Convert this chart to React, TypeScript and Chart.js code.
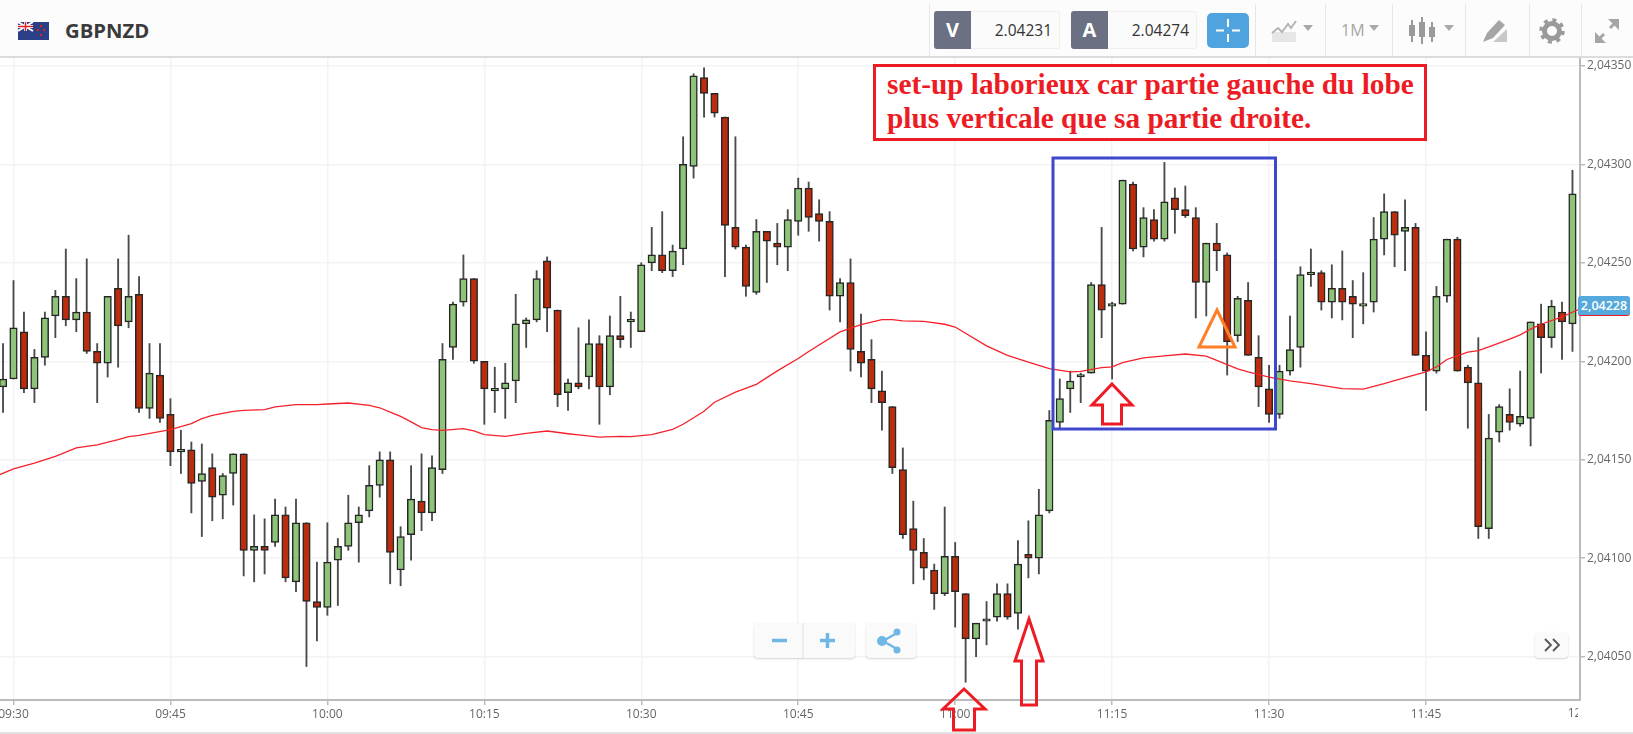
import React, { useEffect, useRef } from "react";
import { Chart, registerables } from "chart.js";

Chart.register(...registerables);

// Prices are written as tenths of a pip above 2.04000 (187 = 2.04187)
const FIRST_MINUTE = -1; // minutes after 09:30 of the first candle
const opens = [187,
  191,215,186,202,223,233,221,225,205,199,
  237,220,234,176,193,173,154,155,139,146,
  132,143,153,104,106,108,122,88,118,78,
  75,99,106,118,124,137,150,94,112,129,
  123,145,207,230,242,200,185,186,190,219,
  221,251,226,184,189,192,209,187,213,220,
  215,250,254,246,257,299,344,336,324,268,
  258,235,266,260,258,271,288,275,271,233,
  240,205,201,185,177,145,115,103,94,82,
  101,82,59,68,70,82,72,102,100,124,
  169,186,192,194,239,228,229,290,258,272,
  262,283,277,273,240,260,254,213,231,202,
  186,173,195,207,244,245,230,237,233,228,
  230,262,276,266,268,203,195,233,262,197,
  189,115,164,173,168,171,219,212,225,219];
const closes = [191,
  217,186,202,222,233,221,225,205,199,233,
  218,233,176,194,171,154,155,138,143,131,
  142,153,104,106,104,122,90,118,78,75,
  98,106,118,122,137,150,103,111,130,123,
  146,201,229,242,200,186,185,189,219,221,
  242,227,183,189,187,209,187,213,211,220,
  249,254,246,256,300,345,336,326,269,258,
  238,266,261,258,272,288,273,271,233,240,
  206,199,186,179,146,112,104,95,82,101,
  83,59,67,69,82,70,97,100,122,170,
  181,190,193,239,226,229,292,257,273,262,
  281,277,274,240,260,256,210,232,203,187,
  173,195,206,244,245,230,237,230,229,229,
  262,276,264,268,203,195,233,262,195,189,
  116,161,177,169,172,220,212,228,220,285];
const highs = [209,
  241,225,206,225,236,257,242,252,209,233,
  252,264,243,209,209,181,165,159,158,153,
  143,153,153,122,120,130,126,130,118,98,
  118,110,132,126,147,154,154,116,147,153,
  152,209,230,254,242,200,197,199,234,222,
  246,253,226,191,217,221,213,223,233,225,
  250,268,276,259,314,346,349,336,324,314,
  259,272,266,270,277,293,291,282,276,242,
  252,224,211,195,177,156,129,110,97,126,
  108,82,67,78,87,87,109,119,135,175,
  191,195,194,240,268,230,292,291,278,277,
  301,288,289,278,260,270,255,233,240,213,
  198,198,223,248,257,246,249,256,241,245,
  273,285,276,282,270,215,238,262,263,198,
  212,173,178,186,195,220,229,231,230,297];
const lows = [174,
  191,184,179,198,212,218,215,204,179,192,
  197,217,174,171,169,147,143,123,111,119,
  120,127,91,88,92,106,88,83,45,58,
  71,76,104,98,121,131,87,86,99,114,
  119,143,201,228,199,168,174,171,179,207,
  220,215,177,175,186,186,168,183,207,207,
  215,246,245,243,249,293,324,324,243,257,
  233,234,240,249,246,264,266,261,226,220,
  195,192,179,165,143,110,87,89,74,81,
  65,37,50,56,68,69,64,90,92,123,
  166,174,179,194,212,191,229,256,253,261,
  261,265,273,222,223,246,193,210,203,177,
  169,171,193,197,238,226,222,221,212,219,
  225,254,248,246,203,175,194,230,195,166,
  110,110,159,165,167,157,194,207,201,205];

const maMinutes = [-1.5,0,2,4,6,8,10,11,12,15,17,18,19,21,22,24,25,27,29,30,32,34,35,36,37,38,39,40,41,43,44,45,47,49,51,53,54,56,58,59,61,63,64,66,67,69,71,73,75,76,79,81,83,84,85,87,89,90,93,95,97,99,101,102,104,105,106,108,110,112,114,115,117,118,120,122,124,127,129,131,133,135,136,137,139,140,141,143,144,145,146,148,149.8];
const maValues = [142,145.4,148.3,151.7,156,157.6,160.2,161.7,162.4,165.3,168.3,170.9,172.5,174.6,175.1,175.4,176.8,178,178,178.3,178.8,177.6,176.4,174.2,172,169.2,166.3,165.3,164.9,165.8,164.6,162.7,161.9,163.4,164.6,163.2,162.6,161.5,161.9,161.7,162.7,165.4,168,174.6,179.2,184.3,188.3,195.1,201.4,205,214.9,218.6,221.2,221.2,220.5,220.3,218.8,217.4,207.8,203,199.6,196.3,194.6,194.9,196.8,197.2,199.3,201.7,202.7,203.7,202.6,200.5,196.1,194.6,192,190,188.6,186.1,185.9,188.6,191.7,194.6,197.1,200.9,204.6,205.4,207.3,211.2,213.4,216.3,218.8,222.5,226.8];

const xTickLabels = ["09:30","09:45","10:00","10:15","10:30","10:45","11:00","11:15","11:30","11:45","12:00"];
const yAxisMin = 2.04028;
const yAxisMax = 2.04354;
const xAxisMin = -1.29;
const xAxisMax = 149.72;
const bidPrice = "2.04231";
const askPrice = "2.04274";
const lastPrice = "2,04228";
const instrument = "GBPNZD";
const noteLines = ["set-up laborieux car partie gauche du lobe", "plus verticale que sa partie droite."];

const toPrice = (p: number) => 2.04 + p / 100000;
const UP = "#8dc47a";
const DOWN = "#bb2d0d";
const AXIS_FONT = { family: "'Open Sans', sans-serif", size: 12 };

function Sep({ x }: { x: number }) {
  return <div style={{ position: "absolute", left: x, top: 4, width: 1, height: 52, background: "#e6e6e6" }} />;
}

function Caret({ x }: { x: number }) {
  return <div style={{ position: "absolute", left: x, top: 25, width: 0, height: 0, borderLeft: "5px solid transparent", borderRight: "5px solid transparent", borderTop: "6px solid #a9a9a9" }} />;
}

function PriceBox({ x, letter, value }: { x: number; letter: string; value: string }) {
  return (
    <>
      <div style={{ position: "absolute", left: x, top: 11, width: 126, height: 38, background: "#fbfbfb", border: "1px solid #eee", borderRadius: 3, boxSizing: "border-box" }} />
      <div style={{ position: "absolute", left: x, top: 11, width: 37, height: 38, background: "#6b7083", color: "#fff", fontWeight: 700, fontSize: 20, lineHeight: "38px", textAlign: "center", borderRadius: "3px 0 0 3px" }}>{letter}</div>
      <div style={{ position: "absolute", left: x + 40, top: 11, width: 78, height: 38, color: "#333", fontSize: 15.5, lineHeight: "38px", textAlign: "right" }}>{value}</div>
    </>
  );
}

function Header() {
  return (
    <div style={{ position: "absolute", left: 0, top: 0, width: 1633, height: 58, background: "#fcfcfc", borderBottom: "2px solid #dcdcdc", boxSizing: "border-box", fontFamily: "'Open Sans', sans-serif" }}>
      <svg style={{ position: "absolute", left: 18, top: 22 }} width={31} height={18} viewBox="0 0 31 18">
        <rect width="31" height="18" fill="#2a3f86" />
        <path d="M0 0L15 9M15 0L0 9" stroke="#fff" strokeWidth="2" />
        <path d="M7.5 0V9M0 4.5H15" stroke="#fff" strokeWidth="3" />
        <path d="M7.5 0V9M0 4.5H15" stroke="#d22" strokeWidth="1.5" />
        <circle cx="23" cy="4" r="1.2" fill="#d22" />
        <circle cx="20" cy="8" r="1.2" fill="#d22" />
        <circle cx="26" cy="8" r="1.2" fill="#d22" />
        <circle cx="23" cy="13" r="1.2" fill="#d22" />
      </svg>
      <div style={{ position: "absolute", left: 65, top: 17, fontSize: 20.3, lineHeight: "26px", fontWeight: 700, color: "#3a3a3a" }}>{instrument}</div>
      <Sep x={929} />
      <PriceBox x={934} letter="V" value={bidPrice} />
      <PriceBox x={1071} letter="A" value={askPrice} />
      <div style={{ position: "absolute", left: 1207, top: 13, width: 42, height: 35, background: "#4fa3df", borderRadius: 5 }}>
        <svg width={42} height={35}>
          <path d="M21 6V14M21 21V29M9 17.5H17M25 17.5H33" stroke="#fff" strokeWidth="2" />
        </svg>
      </div>
      <Sep x={1255} />
      <svg style={{ position: "absolute", left: 1271, top: 18 }} width={26} height={26}>
        <rect x="1" y="14" width="24" height="10" fill="#e6e6e6" />
        <path d="M1 15L7 10L11 14L17 6L20 10L25 3" stroke="#b5b5b5" strokeWidth="2" fill="none" />
      </svg>
      <Caret x={1303} />
      <Sep x={1325} />
      <div style={{ position: "absolute", left: 1341, top: 18, fontSize: 16, lineHeight: "24px", color: "#a5a5a5" }}>1M</div>
      <Caret x={1369} />
      <Sep x={1392} />
      <svg style={{ position: "absolute", left: 1408, top: 16 }} width={28} height={30}>
        <path d="M4 4V26M14 1V28M24 6V26" stroke="#9a9a9a" strokeWidth="2" />
        <rect x="1" y="9" width="6" height="11" fill="#9a9a9a" />
        <rect x="11" y="6" width="6" height="15" fill="#9a9a9a" />
        <rect x="21" y="11" width="6" height="10" fill="#9a9a9a" />
      </svg>
      <Caret x={1444} />
      <Sep x={1465} />
      <svg style={{ position: "absolute", left: 1482, top: 18 }} width={26} height={26}>
        <path d="M1 24L5 15L17 2L23 7L11 20Z" fill="#a5a5a5" />
        <path d="M11 24L25 11V24Z" fill="#c8c8c8" />
      </svg>
      <Sep x={1529} />
      <svg style={{ position: "absolute", left: 1539, top: 18 }} width={26} height={26} viewBox="0 0 26 26">
        <circle cx="13" cy="13" r="7.5" fill="none" stroke="#9a9a9a" strokeWidth="5" />
        <circle cx="13" cy="13" r="11" fill="none" stroke="#9a9a9a" strokeWidth="3.5" strokeDasharray="4 4.64" />
      </svg>
      <Sep x={1581} />
      <svg style={{ position: "absolute", left: 1594, top: 18 }} width={26} height={26}>
        <path d="M2 24L10 16M16 10L24 2" stroke="#a5a5a5" strokeWidth="3" />
        <path d="M1 14V25H12ZM14 1H25V12Z" fill="#a5a5a5" />
      </svg>
    </div>
  );
}

function Controls() {
  const box: React.CSSProperties = { position: "absolute", background: "#fafafa", borderRadius: 4, boxShadow: "0 1px 2px rgba(0,0,0,0.18)" };
  return (
    <>
      <div style={{ ...box, left: 754, top: 623, width: 101, height: 35 }}>
        <svg width={101} height={35}>
          <path d="M49 0V35" stroke="#ddd" />
          <path d="M18 17.5H33" stroke="#6fb7e4" strokeWidth="3.5" />
          <path d="M66 17.5H81M73.5 10V25" stroke="#6fb7e4" strokeWidth="3.5" />
        </svg>
      </div>
      <div style={{ ...box, left: 866, top: 623, width: 50, height: 35 }}>
        <svg width={50} height={35}>
          <path d="M17 18L31 10M17 18L31 26" stroke="#6fb7e4" strokeWidth="2.5" />
          <circle cx="16" cy="18" r="5" fill="#6fb7e4" />
          <circle cx="31" cy="9" r="3.5" fill="#6fb7e4" />
          <circle cx="31" cy="27" r="3.5" fill="#6fb7e4" />
        </svg>
      </div>
      <div style={{ ...box, left: 1535, top: 632, width: 33, height: 26 }}>
        <svg width={33} height={26}>
          <path d="M10 7L16 13L10 19M18 7L24 13L18 19" stroke="#555" strokeWidth="1.8" fill="none" />
        </svg>
      </div>
    </>
  );
}

function Annotations() {
  const red = "#ed1c24";
  const arrow = (tipX: number, tipY: number, headY: number, headHalf: number, stemHalf: number, bottom: number) =>
    `M${tipX} ${tipY}L${tipX + headHalf} ${headY}H${tipX + stemHalf}V${bottom}H${tipX - stemHalf}V${headY}H${tipX - headHalf}Z`;
  return (
    <>
      <svg style={{ position: "absolute", left: 0, top: 0, pointerEvents: "none" }} width={1633} height={734}>
        <rect x={1053} y={158} width={222.5} height={271} fill="none" stroke="#3f48cc" strokeWidth={3} />
        <path d="M1217 310L1235 347H1199Z" fill="none" stroke="#ff7f27" strokeWidth={3} />
        <path d={arrow(1112, 384, 405, 20, 9.5, 424)} fill="none" stroke={red} strokeWidth={3} />
        <path d={arrow(1029, 619, 661, 14, 7.5, 705)} fill="none" stroke={red} strokeWidth={3} />
        <path d={arrow(964, 689, 709, 21, 10.5, 730)} fill="none" stroke={red} strokeWidth={3} />
      </svg>
      <div style={{ position: "absolute", left: 873, top: 64, width: 554, height: 77, boxSizing: "border-box", border: `3px solid ${red}`, background: "#fff", color: red, fontFamily: "'Liberation Serif', serif", fontWeight: 700, fontSize: 29.3, lineHeight: "33.5px", padding: "1px 0 0 11px", whiteSpace: "nowrap" }}>
        {noteLines.map((l) => <div key={l}>{l}</div>)}
      </div>
      <div style={{ position: "absolute", left: 1578, top: 296, width: 52, height: 20, boxSizing: "border-box", background: "#55a9dc", borderRadius: 3, borderBottom: `1.5px solid ${red}`, color: "#fff", fontFamily: "'Open Sans', sans-serif", fontSize: 12.5, fontWeight: 600, lineHeight: "19px", textAlign: "center" }}>{lastPrice}</div>
    </>
  );
}

export default function App() {
  const ref = useRef<HTMLCanvasElement>(null);
  useEffect(() => {
    const minutes = opens.map((_, i) => FIRST_MINUTE + i);
    const clippedLabel = {
      id: "clippedLabel",
      afterDraw(chart: any) {
        const { ctx, scales, chartArea } = chart;
        const last = xTickLabels.length - 1;
        ctx.save();
        ctx.beginPath();
        ctx.rect(0, chartArea.bottom, chartArea.right - 2, 40);
        ctx.clip();
        ctx.font = `${AXIS_FONT.size}px ${AXIS_FONT.family}`;
        ctx.fillStyle = "#666";
        ctx.textAlign = "center";
        ctx.textBaseline = "middle";
        ctx.fillText(xTickLabels[last], scales.x.getPixelForValue(last * 15), chartArea.bottom + 14);
        ctx.restore();
      },
    };
    const chart = new Chart(ref.current!, {
      type: "bar",
      data: {
        datasets: [
          {
            type: "line",
            label: "MA",
            data: maMinutes.map((m, i) => ({ x: m, y: toPrice(maValues[i]) })),
            borderColor: "#f5222d",
            borderWidth: 1.3,
            pointRadius: 0,
            tension: 0,
            order: 0,
          },
          {
            label: "Body",
            data: minutes.map((m, i) => ({ x: m, y: [toPrice(opens[i]), toPrice(closes[i])] })),
            backgroundColor: opens.map((o, i) => (closes[i] >= o ? UP : DOWN)),
            borderColor: "#262626",
            borderWidth: 1.5,
            borderSkipped: false,
            barThickness: 7.5,
            minBarLength: 2.5,
            grouped: false,
            order: 1,
          },
          {
            label: "Wick",
            data: minutes.map((m, i) => ({ x: m, y: [toPrice(lows[i]), toPrice(highs[i])] })),
            backgroundColor: "#4a4a4a",
            borderWidth: 0,
            barThickness: 1.2,
            grouped: false,
            order: 2,
          },
        ] as any,
      },
      options: {
        animation: false,
        responsive: false,
        layout: { autoPadding: false, padding: { top: 58, left: 0, right: 0, bottom: 0 } },
        plugins: { legend: { display: false }, tooltip: { enabled: false } },
        scales: {
          x: {
            type: "linear",
            min: xAxisMin,
            max: xAxisMax,
            offset: false,
            afterFit: (s: any) => { s.height = 34; s.paddingLeft = 0; s.paddingRight = 0; },
            border: { color: "#bbbbbb", width: 2 },
            grid: { color: "#f3f3f3", lineWidth: 1.5, offset: false, tickColor: "#bbbbbb", tickLength: 5 },
            ticks: {
              stepSize: 15,
              includeBounds: false,
              autoSkip: false,
              maxRotation: 0,
              padding: 2,
              color: "#666",
              font: AXIS_FONT,
              callback: (v: any) => xTickLabels[Math.round(Number(v) / 15)] ?? "",
            },
          },
          y: {
            type: "linear",
            position: "right",
            min: yAxisMin,
            max: yAxisMax,
            afterFit: (s: any) => { s.width = 53; s.paddingTop = 0; s.paddingBottom = 0; },
            border: { color: "#bbbbbb", width: 2 },
            grid: { color: "#f3f3f3", lineWidth: 1.5, tickColor: "#bbbbbb", tickLength: 5 },
            ticks: {
              stepSize: 0.0005,
              includeBounds: false,
              padding: 2,
              color: "#666",
              font: AXIS_FONT,
              callback: (v: any) => Number(v).toFixed(5).replace(".", ","),
            },
          },
        },
      } as any,
      plugins: [clippedLabel],
    });
    return () => chart.destroy();
  }, []);
  return (
    <div style={{ position: "absolute", left: 0, top: 0, width: 1633, height: 734, overflow: "hidden", background: "#fff", fontFamily: "'Open Sans', sans-serif" }}>
      <canvas ref={ref} width={1633} height={734} style={{ position: "absolute", left: 0, top: 0, width: 1633, height: 734 }} />
      <Header />
      <Controls />
      <Annotations />
      <div style={{ position: "absolute", left: 0, top: 732, width: 1633, height: 2, background: "#e2e2e2" }} />
    </div>
  );
}
